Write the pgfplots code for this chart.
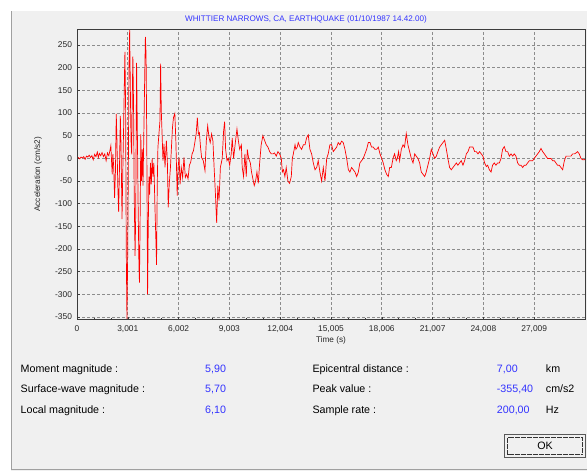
\documentclass[border=0pt]{standalone}
\usepackage{fontspec}
\setmainfont{Liberation Sans}
\usepackage{pgfplots}
\usepackage{pgfplotstable}
\pgfplotsset{compat=1.18}
\definecolor{dlgbg}{RGB}{240,240,240}
\definecolor{txtblue}{RGB}{51,51,255}
\definecolor{gridc}{RGB}{140,140,140}
\definecolor{framec}{RGB}{60,60,60}
\definecolor{bordc}{RGB}{160,160,160}
\definecolor{sigred}{RGB}{255,0,0}

\pgfplotstableread{
t a
0 0
0.08 2
0.16 -1
0.24 3
0.32 1
0.40 4
0.48 -2
0.56 5
0.64 3
0.72 7
0.80 2
0.88 6
0.96 -3
1.04 9
1.12 4
1.20 14
1.26 2
1.32 11
1.40 6
1.48 13
1.56 4
1.64 10
1.72 -5
1.80 12
1.88 6
1.95 18
2.00 28
2.04 -5
2.08 -35
2.12 10
2.17 -20
2.22 -87
2.27 -30
2.32 98
2.36 40
2.41 -60
2.46 -118
2.51 -20
2.56 94
2.60 30
2.66 -134
2.70 -40
2.75 60
2.79 150
2.83 235
2.87 120
2.91 -200
2.95 -355.4
2.99 -230
3.03 -40
3.07 200
3.11 283
3.15 160
3.19 40
3.23 9
3.27 150
3.30 225
3.34 120
3.38 -80
3.43 -215
3.47 -120
3.52 211
3.56 80
3.61 -100
3.66 -240
3.69 -274
3.73 -130
3.77 53
3.81 -50
3.86 20
3.90 -60
3.95 60
4.00 180
4.04 268
4.08 230
4.12 50
4.17 -300
4.21 -150
4.25 -40
4.29 -80
4.34 -10
4.39 -57
4.44 0
4.49 -40
4.54 -10
4.60 -100
4.66 -180
4.70 -235
4.74 -60
4.78 24
4.84 54
4.90 83
4.94 209
4.98 105
5.02 60
5.08 -5
5.14 32
5.20 -20
5.28 39
5.34 -10
5.39 -108
5.45 -57
5.52 -20
5.58 24
5.64 68
5.70 90
5.78 99
5.84 39
5.92 -82
5.97 -20
6.03 2
6.09 -57
6.16 -20
6.24 -42
6.32 2
6.40 -42
6.48 -35
6.56 -45
6.64 -15
6.72 -8
6.80 10
6.88 17
6.96 35
7.04 54
7.11 90
7.17 54
7.23 57
7.30 24
7.36 2
7.46 -5
7.56 -27
7.64 39
7.72 72
7.80 46
7.87 35
7.95 54
8.03 38
8.10 -20
8.18 -80
8.25 -142
8.32 -60
8.39 -93
8.47 -20
8.58 0
8.66 60
8.72 81
8.78 20
8.86 -5
8.94 0
9.02 -15
9.11 10
9.17 45
9.25 0
9.37 40
9.45 65
9.53 40
9.61 20
9.71 30
9.76 -20
9.84 -40
9.92 10
10.00 -40
10.06 20
10.14 0
10.24 -10
10.31 -30
10.39 -45
10.47 -60
10.55 -50
10.63 -30
10.71 -55
10.79 -10
10.88 30
10.98 50
11.08 40
11.18 30
11.28 25
11.38 15
11.48 10
11.58 10
11.67 12
11.77 5
11.87 15
11.97 10
12.07 0
12.13 -30
12.20 -25
12.28 -40
12.36 -20
12.46 -50
12.56 -55
12.66 -40
12.72 0
12.78 10
12.88 30
12.93 20
13.01 25
13.07 35
13.17 25
13.27 20
13.37 30
13.47 30
13.56 45
13.66 52
13.76 20
13.86 10
13.96 -10
14.06 -25
14.16 -20
14.25 -5
14.35 -30
14.45 -50
14.55 -20
14.65 -50
14.75 0
14.84 10
14.94 30
15.04 30
15.14 15
15.24 20
15.34 25
15.43 35
15.53 30
15.63 38
15.73 35
15.83 20
15.93 0
16.03 -25
16.12 -30
16.22 -20
16.32 -25
16.42 -30
16.52 -40
16.62 -30
16.71 -10
16.81 -5
16.91 0
17.01 10
17.11 20
17.21 35
17.31 35
17.40 25
17.50 25
17.60 20
17.70 20
17.80 25
17.90 10
18.00 0
18.09 -10
18.19 -25
18.29 -35
18.39 -40
18.47 -20
18.57 -20
18.67 0
18.76 10
18.86 -5
18.92 0
19.00 15
19.06 -5
19.16 20
19.26 30
19.35 25
19.45 55
19.55 30
19.65 15
19.75 0
19.85 -10
19.95 10
20.04 5
20.14 0
20.24 -10
20.34 -30
20.44 -35
20.54 -40
20.63 -30
20.73 -15
20.83 0
20.93 20
21.03 10
21.13 0
21.23 5
21.32 15
21.42 25
21.52 30
21.62 35
21.72 40
21.82 20
21.91 0
22.01 -20
22.11 -25
22.21 -20
22.31 -15
22.41 -10
22.50 -15
22.60 -10
22.70 -5
22.80 -15
22.90 -5
23.00 10
23.10 15
23.19 25
23.29 25
23.39 25
23.49 15
23.59 15
23.69 10
23.78 15
23.88 10
23.98 5
24.08 -10
24.18 -18
24.26 -15
24.36 -25
24.46 -30
24.55 -15
24.65 -10
24.75 -15
24.85 -10
24.95 -10
25.05 0
25.14 20
25.24 26
25.34 15
25.44 15
25.54 5
25.64 10
25.74 5
25.83 10
25.93 5
26.03 -10
26.13 -15
26.23 -15
26.33 -20
26.42 -15
26.52 -15
26.62 -10
26.72 -5
26.82 -5
26.92 -5
27.01 0
27.11 5
27.21 10
27.31 15
27.41 22
27.51 15
27.61 10
27.70 5
27.80 0
27.90 0
28.00 0
28.10 -5
28.20 -5
28.29 -10
28.39 -15
28.49 -15
28.59 -20
28.69 -25
28.79 -5
28.89 5
28.98 5
29.08 5
29.18 5
29.28 10
29.38 10
29.48 12
29.57 15
29.67 10
29.77 0
29.87 -3
29.97 -3
30.01 -2
}\quake

\begin{document}
\begin{tikzpicture}
\useasboundingbox (0,0) rectangle (587bp,-471bp);
\fill[white] (0,0) rectangle (587bp,-471bp);
\fill[dlgbg] (11bp,-11bp) rectangle (587bp,-471bp);
\draw[bordc, line width=1bp] (11.5bp,-11bp) -- (11.5bp,-469.5bp) -- (587bp,-469.5bp);

\node[font=\fontsize{8.1bp}{9bp}\selectfont, text=txtblue, inner sep=0] at (306bp,-19bp) {WHITTIER NARROWS, CA, EARTHQUAKE (01/10/1987 14.42.00)};

\begin{axis}[
  at={(77bp,-29bp)}, anchor=north west,
  scale only axis, width=508bp, height=290.5bp,
  xmin=0, xmax=30.01, ymin=-355.4, ymax=285.5,
  axis background/.style={fill=dlgbg},
  xtick={0,3.001,6.002,9.003,12.004,15.005,18.006,21.007,24.008,27.009},
  xticklabels={0,{3,001},{6,002},{9,003},{12,004},{15,005},{18,006},{21,007},{24,008},{27,009}},
  ytick={-350,-300,...,250},
  yticklabels={-350,-300,-250,-200,-150,-100,-50,0,50,100,150,200,250},
  minor x tick num=2,
  tick align=inside, tick pos=left,
  major tick length=3bp, minor tick length=2bp,
  tick style={framec, line width=0.6bp},
  ticklabel style={font=\fontsize{8.4bp}{9bp}\selectfont, text=black!85},
  xticklabel style={yshift=-2.5bp},
  yticklabel style={xshift=-1.5bp},
  grid=major,
  grid style={gridc, dash pattern=on 3bp off 2bp, line width=0.7bp},
  axis line style={framec, line width=0.8bp},
  xlabel={Time (s)}, ylabel={Acceleration (cm/s2)},
  label style={font=\fontsize{8.2bp}{9bp}\selectfont, text=black!85},
  xlabel style={at={(axis description cs:0.5,0)}, anchor=center, yshift=-20.5bp},
  ylabel style={at={(axis description cs:0,0.5)}, anchor=center, yshift=39bp},
]
\addplot[sigred, line width=0.7bp] table[x=t, y=a] {\quake};
\draw[framec, line width=1.6bp] (rel axis cs:0,1) -- (rel axis cs:0,0) -- (rel axis cs:1,0);
\end{axis}

\begin{scope}[every node/.style={inner sep=0, anchor=base west, font=\fontsize{10.7bp}{12bp}\selectfont}]
\node at (20.5bp,-372.3bp) {Moment magnitude :};
\node at (20.5bp,-392.5bp) {Surface-wave magnitude :};
\node at (20.5bp,-413bp) {Local magnitude :};
\node[text=txtblue] at (205bp,-372.3bp) {5,90};
\node[text=txtblue] at (205bp,-392.5bp) {5,70};
\node[text=txtblue] at (205bp,-413bp) {6,10};
\node at (312.3bp,-372.3bp) {Epicentral distance :};
\node at (312.3bp,-392.5bp) {Peak value :};
\node at (312.3bp,-413bp) {Sample rate :};
\node[text=txtblue] at (496.7bp,-372.3bp) {7,00};
\node[text=txtblue] at (496.7bp,-392.5bp) {-355,40};
\node[text=txtblue] at (496.7bp,-413bp) {200,00};
\node at (545.7bp,-372.3bp) {km};
\node at (545.7bp,-392.5bp) {cm/s2};
\node at (545.7bp,-413bp) {Hz};
\end{scope}

\draw[black!65, line width=1bp, fill=dlgbg] (504.8bp,-434.8bp) rectangle (585.2bp,-457.2bp);
\draw[black!80, line width=0.5bp, dash pattern=on 0.6bp off 0.6bp] (507.5bp,-437.5bp) rectangle (582.5bp,-454.5bp);
\node[font=\fontsize{10.7bp}{12bp}\selectfont, inner sep=0] at (545bp,-446bp) {OK};
\end{tikzpicture}
\end{document}
